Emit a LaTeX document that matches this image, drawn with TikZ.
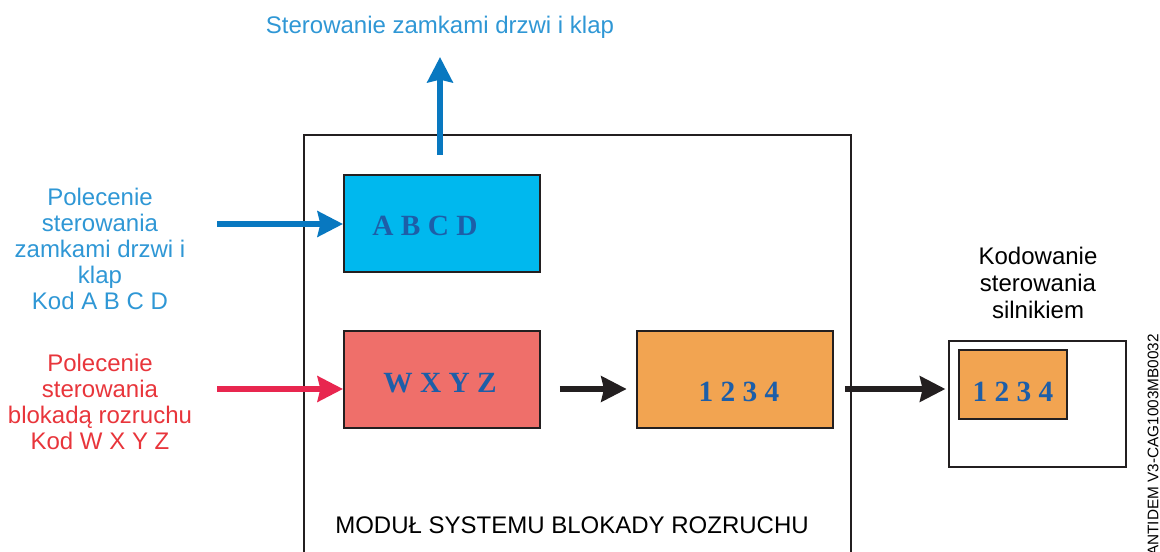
\documentclass[tikz,border=0pt]{standalone}
\usepackage{fontspec}
\setmainfont{Liberation Sans}
\newfontfamily\codefont{Liberation Serif}[BoldFont={Liberation Serif Bold}]
\usetikzlibrary{arrows.meta}
\definecolor{txtblue}{HTML}{2F97D5}
\definecolor{arrblue}{HTML}{0878C0}
\definecolor{cyanfill}{HTML}{00B8EE}
\definecolor{redfill}{HTML}{EF6F6A}
\definecolor{orangefill}{HTML}{F2A451}
\definecolor{txtred}{HTML}{E8353B}
\definecolor{arrred}{HTML}{E8264F}
\definecolor{codeblue}{HTML}{1D5EA8}
\definecolor{ink}{HTML}{231F20}
\tikzset{
  codebox/.style={draw=ink, line width=1.6pt, minimum width=147pt, minimum height=73pt, inner sep=0pt},
  codetext/.style={font=\codefont\bfseries\fontsize{22}{24}\selectfont, text=codeblue},
  label/.style={font=\fontsize{18}{19.5}\selectfont, align=center, inner sep=0pt},
  fat/.style={line width=4.8pt, -{Stealth[length=19pt, width=19pt, inset=2pt]}},
}
\begin{document}
\begin{tikzpicture}[x=0.75pt, y=-0.75pt]
\useasboundingbox (0,0) rectangle (1160,552);

% module frame (open at the bottom edge)
\draw[ink, line width=1.9pt] (304,570) -- (304,135) -- (851,135) -- (851,570);
\node[font=\fontsize{18}{20}\selectfont, inner sep=0pt] (modlbl) at (572,525) {MODUŁ SYSTEMU BLOKADY ROZRUCHU};

% code boxes inside the module
\node[codebox, fill=cyanfill, anchor=north west] (abcd) at (343,174) {};
\node[codetext] at (425,226) {A B C D};
\node[codebox, fill=redfill, anchor=north west] (wxyz) at (343,330) {};
\node[codetext] at (440,383) {W X Y Z};
\node[codebox, fill=orangefill, anchor=north west] (code) at (636,330) {};
\node[codetext] at (739,392) {1 2 3 4};

% engine controller
\node[draw=ink, line width=1.6pt, fill=white, minimum width=133pt, minimum height=94.5pt, inner sep=0pt, anchor=north west] (ecu) at (948,340) {};
\node[draw=ink, line width=1.6pt, fill=orangefill, minimum width=81pt, minimum height=52pt, inner sep=0pt, anchor=north west] (ecucode) at (958,349) {};
\node[codetext] at (1013,392) {1 2 3 4};
\node[label, font=\fontsize{18}{20}\selectfont, text=black] (ecuttl) at (1038,283) {Kodowanie\\sterowania\\silnikiem};

% input commands
\node[label, text=txtblue] (cmdA) at (100,249) {Polecenie\\sterowania\\zamkami drzwi i\\klap\\Kod A B C D};
\node[label, text=txtred] (cmdW) at (100,402) {Polecenie\\sterowania\\blokadą rozruchu\\Kod W X Y Z};
\node[label, text=txtblue] (outA) at (440,27) {Sterowanie zamkami drzwi i klap};

\coordinate (inA) at (217,224);
\coordinate (inW) at (217,389);
\coordinate (upS) at (440,155);
\coordinate (upE) at (440,57);

\draw[fat, arrblue] (inA) -- (abcd.west |- inA);
\draw[fat, arrred] (inW) -- (wxyz.west |- inW);
\draw[fat, arrblue] (upS) -- (upE);
\draw[fat, ink] ([xshift=14pt]wxyz.east |- inW) -- ([xshift=-7pt]code.west |- inW);
\draw[fat, ink] ([xshift=8pt]code.east |- inW) -- ([xshift=-2pt]ecu.west |- inW);

% drawing reference
\node[font=\fontsize{11.5}{12}\selectfont, rotate=90, anchor=west, inner sep=0pt] (ref) at (1153,556) {ANTIDEM V3-CAG1003MB0032};
\end{tikzpicture}
\end{document}
